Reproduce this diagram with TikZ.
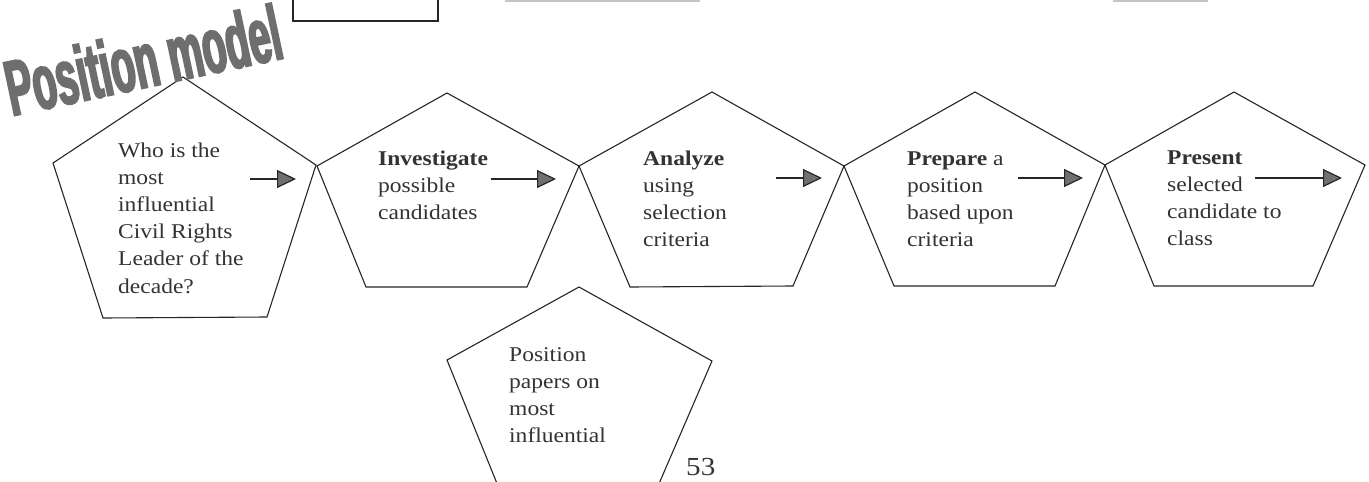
\documentclass[tikz,border=0pt]{standalone}
\usepackage{fontspec}
\setmainfont{Liberation Serif}
\newfontfamily\tf[FakeStretch=1.12]{Liberation Serif}
\newfontfamily\wafont[FakeStretch=0.5,FakeBold=2.5]{Liberation Sans Bold}
\usetikzlibrary{arrows.meta}
\definecolor{edge}{HTML}{262626}
\definecolor{txt}{HTML}{333333}
\definecolor{headfill}{HTML}{6F6F6F}
\definecolor{wacol}{HTML}{6E6E6E}
\newcommand{\ptxt}[1]{\parbox[t]{170pt}{\raggedright\tf\fontsize{21pt}{27.2pt}\selectfont #1}}
\begin{document}
\begin{tikzpicture}[x=1pt,y=-1pt,
 pent/.style={draw=edge,line width=1.1pt,line join=miter},
 flow/.style={draw=edge,line width=1.2pt,-{Triangle[length=19pt,width=18pt,fill=headfill]}},
 lbl/.style={anchor=base west,inner sep=0pt,text=txt}]
\useasboundingbox (0,0) rectangle (1369,482);
\fill[white] (0,0) rectangle (1369,482);

% fragments at the top edge
\draw[edge,line width=1.1pt] (293,-3) -- (293,21) -- (438,21) -- (438,-3);
\draw[gray!45,line width=1.5pt] (505,1) -- (700,1);
\draw[gray!45,line width=1.5pt] (1113,1) -- (1208,1);

% pentagons
\draw[pent] (183,77) -- (316,165) -- (267,317) -- (103,318) -- (53,163) -- cycle;
\draw[pent] (447,93) -- (579,166) -- (527,287) -- (366,287) -- (317,166) -- cycle;
\draw[pent] (712,92) -- (844,166) -- (793,286) -- (630,287) -- (579,166) -- cycle;
\draw[pent] (975,92) -- (1105,165) -- (1055,286) -- (894,286) -- (844,166) -- cycle;
\draw[pent] (1234,92) -- (1365,165) -- (1313,286) -- (1154,286) -- (1105,165) -- cycle;
\draw[pent] (579,287) -- (712,361) -- (658,486) -- (498,486) -- (447,360) -- cycle;

% texts
\node[lbl] (t1) at (118,157) {\ptxt{Who is the\\most\\influential\\Civil Rights\\Leader of the\\decade?}};
\node[lbl] (t2) at (378,165) {\ptxt{\textbf{Investigate}\\possible\\candidates}};
\node[lbl] (t3) at (643,165) {\ptxt{\textbf{Analyze}\\using\\selection\\criteria}};
\node[lbl] (t4) at (907,165) {\ptxt{\textbf{Prepare} a\\position\\based upon\\criteria}};
\node[lbl] (t5) at (1167,164) {\ptxt{\textbf{Present}\\selected\\candidate to\\class}};
\node[lbl] (t6) at (509,361) {\ptxt{Position\\papers on\\most\\influential}};
\node[lbl,font=\tf\fontsize{26pt}{26pt}\selectfont] (pg) at (686,475) {53};

% arrows
\coordinate (a1s) at (250,179); \coordinate (a1e) at (296,179);
\coordinate (a2s) at (491,179); \coordinate (a2e) at (556,179);
\coordinate (a3s) at (776,178); \coordinate (a3e) at (822,178);
\coordinate (a4s) at (1018,178); \coordinate (a4e) at (1083,178);
\coordinate (a5s) at (1255,178); \coordinate (a5e) at (1342,178);
\draw[flow] (a1s) -- (a1e);
\draw[flow] (a2s) -- (a2e);
\draw[flow] (a3s) -- (a3e);
\draw[flow] (a4s) -- (a4e);
\draw[flow] (a5s) -- (a5e);

% title
\node[anchor=base west,rotate=12,inner sep=0pt,text=wacol,font=\wafont\fontsize{78pt}{78pt}\selectfont] (title) at (12,116) {Position model};
\end{tikzpicture}
\end{document}
